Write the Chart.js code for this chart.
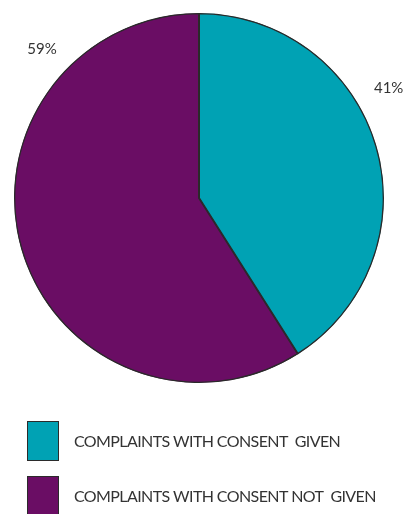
<!DOCTYPE html>
<html>
<head>
<meta charset="utf-8">
<script src="https://cdn.jsdelivr.net/npm/chart.js@4/dist/chart.umd.min.js"></script>
<style>
  html, body { margin: 0; padding: 0; background: #ffffff; }
  #wrap { position: relative; width: 407px; height: 514px; }
</style>
</head>
<body>
<div id="wrap"><canvas id="c" width="407" height="514"></canvas></div>
<script>
// Share of complaints by whether consent was given (percent)
const categories = ['COMPLAINTS WITH CONSENT  GIVEN', 'COMPLAINTS WITH CONSENT NOT  GIVEN'];
const shares = [41, 59];
const sliceColors = ['#00a2b4', '#6a0d64'];

const FONT = 'Lato, "Open Sans", sans-serif';
const TEXT = '#333333';

// Percentage labels placed outside the pie at a given direction (degrees, canvas coords)
const outerLabels = {
  id: 'outerLabels',
  afterDatasetsDraw(chart, args, opts) {
    const ctx = chart.ctx;
    const meta = chart.getDatasetMeta(0);
    ctx.save();
    ctx.font = '15px ' + FONT;
    ctx.fillStyle = TEXT;
    ctx.textAlign = 'center';
    ctx.textBaseline = 'middle';
    meta.data.forEach((arc, i) => {
      const a = opts.angles[i] * Math.PI / 180;
      const d = arc.outerRadius + opts.gaps[i];
      ctx.fillText(shares[i] + '%', arc.x + Math.cos(a) * d, arc.y + Math.sin(a) * d);
    });
    ctx.restore();
  }
};

// Stacked legend of colour boxes below the pie
const boxLegend = {
  id: 'boxLegend',
  afterDraw(chart, args, opts) {
    const ctx = chart.ctx;
    ctx.save();
    categories.forEach((label, i) => {
      const top = opts.top + i * opts.step;
      ctx.fillStyle = sliceColors[i];
      ctx.fillRect(opts.left, top, opts.boxW, opts.boxH);
      ctx.strokeStyle = '#2b2b2b';
      ctx.lineWidth = 1;
      ctx.strokeRect(opts.left + 0.5, top + 0.5, opts.boxW - 1, opts.boxH - 1);
      ctx.font = '16px ' + FONT;
      if ('letterSpacing' in ctx) ctx.letterSpacing = '-0.6px';
      ctx.fillStyle = TEXT;
      ctx.textAlign = 'left';
      ctx.textBaseline = 'middle';
      ctx.fillText(label, opts.textX, top + opts.boxH / 2 + 1);
    });
    ctx.restore();
  }
};

new Chart(document.getElementById('c'), {
  type: 'pie',
  data: {
    labels: categories,
    datasets: [{
      data: shares,
      backgroundColor: sliceColors,
      borderColor: '#2a2a2a',
      borderWidth: 1,
      borderAlign: 'inner'
    }]
  },
  options: {
    responsive: false,
    animation: false,
    events: [],
    layout: { padding: { left: 14, right: 23, top: 13, bottom: 131 } },
    plugins: {
      legend: { display: false },
      tooltip: { enabled: false },
      outerLabels: { angles: [-30, -136.6], gaps: [34, 31] },
      boxLegend: { left: 27, top: 421, step: 55, boxW: 32, boxH: 40, textX: 74 }
    }
  },
  plugins: [outerLabels, boxLegend]
});
</script>
</body>
</html>
